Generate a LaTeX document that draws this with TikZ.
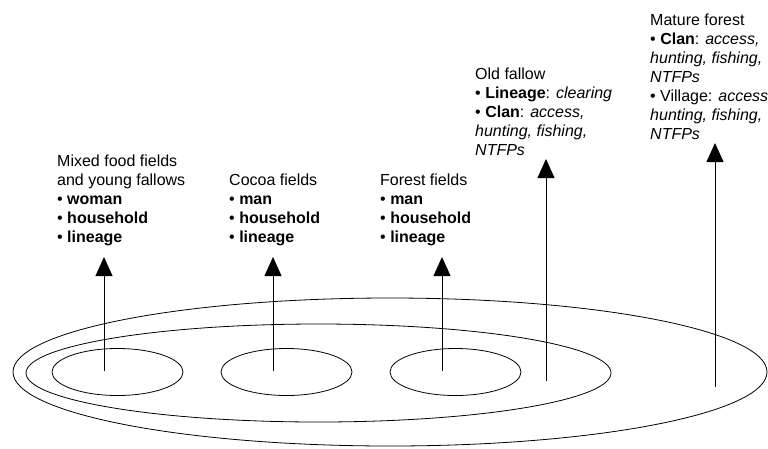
\documentclass[tikz,border=0pt]{standalone}
\usepackage{fontspec}
\setmainfont{Liberation Sans}
\usetikzlibrary{shapes.geometric, arrows.meta, positioning}
\tikzset{
	field/.style={ellipse, draw, line width=0.8pt, inner sep=0pt},
	landtext/.style={anchor=base west, align=left, inner sep=0pt, font=\fontsize{16}{19}\selectfont},
	uparrow/.style={draw, line width=0.8pt, -{Triangle[length=19pt, width=17pt]}}
}

\begin{document}
\begin{tikzpicture}[x=1pt, y=-1pt]
    \useasboundingbox (0,0) rectangle (768,448);
    % Nodes
    \node[field, minimum width=754pt, minimum height=148pt] (village) at (390,372) {};
    \node[field, minimum width=585pt, minimum height=98pt] (clan) at (318.5,373) {};
    \node[field, minimum width=131pt, minimum height=47pt] (food) at (117.5,372) {};
    \node[field, minimum width=131pt, minimum height=47pt] (cocoa) at (286.5,372) {};
    \node[field, minimum width=131pt, minimum height=47pt] (forest) at (455.5,372) {};
    \coordinate (s1) at (104,371);
    \coordinate (s2) at (273,371);
    \coordinate (s3) at (442,371);
    \coordinate (s4) at (546,381);
    \coordinate (s5) at (715,387);
    \coordinate (t1) at (104,257);
    \coordinate (t2) at (273,257);
    \coordinate (t3) at (442,257);
    \coordinate (t4) at (546,159);
    \coordinate (t5) at (715,143);
    % Arrows
    \draw[uparrow] (s1) -- (t1);
    \draw[uparrow] (s2) -- (t2);
    \draw[uparrow] (s3) -- (t3);
    \draw[uparrow] (s4) -- (t4);
    \draw[uparrow] (s5) -- (t5);
    % Labels
    \node[landtext] (foodtext) at (57,242) {Mixed food fields\\and young fallows\\• \textbf{woman}\\• \textbf{household}\\• \textbf{lineage}};
    \node[landtext] (cocoatext) at (229,242) {Cocoa fields\\• \textbf{man}\\• \textbf{household}\\• \textbf{lineage}};
    \node[landtext] (foresttext) at (380,242) {Forest fields\\• \textbf{man}\\• \textbf{household}\\• \textbf{lineage}};
    \node[landtext] (oldtext) at (475,155) {Old fallow\\• \textbf{Lineage}: \textit{clearing}\\• \textbf{Clan}: \textit{access,}\\\textit{hunting, fishing,}\\\textit{NTFPs}};
    \node[landtext] (maturetext) at (650,139) {Mature forest\\• \textbf{Clan}: \textit{access,}\\\textit{hunting, fishing,}\\\textit{NTFPs}\\• Village: \textit{access,}\\\textit{hunting, fishing,}\\\textit{NTFPs}};
\end{tikzpicture}
\end{document}
